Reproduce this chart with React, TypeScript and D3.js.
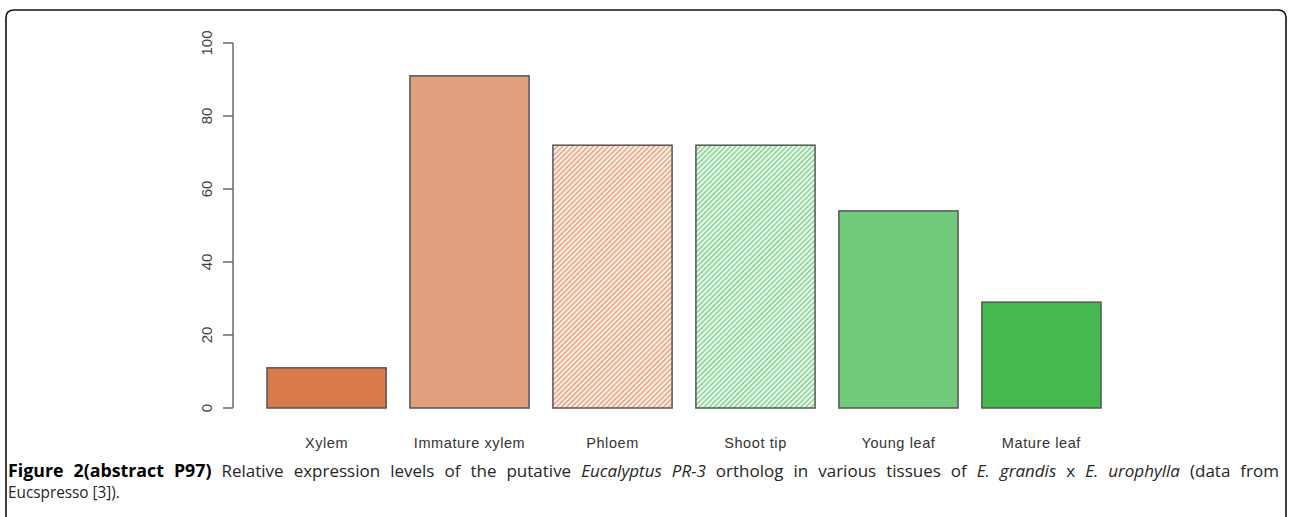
import React, { useEffect, useRef } from "react";
import * as d3 from "d3";

const categories = ["Xylem", "Immature xylem", "Phloem", "Shoot tip", "Young leaf", "Mature leaf"];
const values = [11, 91, 72, 72, 54, 29];
const fills = ["#d97a4b", "#e1a07d", "url(#hatchOrange)", "url(#hatchGreen)", "#72cb7c", "#45b950"];
const yTicks = [0, 20, 40, 60, 80, 100];

const captionLine1: [string, string][] = [
  ["b", "Figure 2(abstract P97)"],
  ["r", "Relative expression levels of the putative"],
  ["i", "Eucalyptus PR-3"],
  ["r", "ortholog in various tissues of"],
  ["i", "E. grandis"],
  ["r", "x"],
  ["i", "E. urophylla"],
  ["r", "(data from"],
];
const captionLine2 = "Eucspresso [3]).";

const W = 1289;
const H = 517;

export default function App() {
  const capRef = useRef<SVGGElement>(null);

  const x = d3
    .scaleBand<string>()
    .domain(categories)
    .range([267, 1101])
    .paddingInner(0.1667)
    .paddingOuter(0);
  const y = d3.scaleLinear().domain([0, 100]).range([408, 43]);

  const font = "Liberation Sans, Arimo, Arial, Helvetica, sans-serif";
  const capFont = "Open Sans, Noto Sans, sans-serif";

  useEffect(() => {
    const g = d3.select(capRef.current);
    g.selectAll("*").remove();
    const words: { t: string; s: string }[] = [];
    captionLine1.forEach(([s, t]) => t.split(" ").forEach((w) => words.push({ t: w, s })));

    const items = words.map((w) => {
      const el = g
        .append("text")
        .attr("font-family", capFont)
        .attr("font-size", w.s === "b" ? 17.8 : 16.5)
        .attr("font-weight", w.s === "b" ? "bold" : "normal")
        .attr("font-style", w.s === "i" ? "italic" : "normal")
        .attr("fill", w.s === "b" ? "#000" : "#262626")
        .text(w.t);
      const nat = (el.node() as SVGTextElement).getComputedTextLength();
      return { el, s: w.s, nat };
    });
    const gap = 10;
    const boldW = d3.sum(items.filter((d) => d.s === "b"), (d) => d.nat);
    const regW = d3.sum(items.filter((d) => d.s !== "b"), (d) => d.nat);
    const regSx = (1271 - boldW - gap * (items.length - 1)) / regW;
    let cx = 8;
    items.forEach((it) => {
      const sx = it.s === "b" ? 1 : regSx;
      it.el.attr("transform", `translate(${cx},477) scale(${sx},1)`);
      cx += it.nat * sx + gap;
    });

    const l2 = g
      .append("text")
      .attr("font-family", capFont)
      .attr("font-size", 16.5)
      .attr("fill", "#262626")
      .text(captionLine2);
    const l2w = (l2.node() as SVGTextElement).getComputedTextLength();
    const l2sx = Math.min(regSx, 112 / l2w);
    l2.attr("transform", `translate(8,498) scale(${l2sx},1)`);
  }, []);

  return (
    <svg width={W} height={H} style={{ position: "absolute", left: 0, top: 0, background: "#fff" }}>
      <defs>
        <pattern id="hatchOrange" patternUnits="userSpaceOnUse" width={3.6} height={3.6} patternTransform="rotate(45)">
          <rect width={3.6} height={3.6} fill="#fdf6f2" />
          <line x1={0.9} y1={0} x2={0.9} y2={3.6} stroke="#efac8a" strokeWidth={1.9} />
        </pattern>
        <pattern id="hatchGreen" patternUnits="userSpaceOnUse" width={3.6} height={3.6} patternTransform="rotate(45)">
          <rect width={3.6} height={3.6} fill="#f3fbf4" />
          <line x1={0.9} y1={0} x2={0.9} y2={3.6} stroke="#8fd99d" strokeWidth={1.9} />
        </pattern>
      </defs>

      {/* frame */}
      <path
        d={`M6,${H} L6,18 Q6,10 14,10 L1278,10 Q1286,10 1286,18 L1286,${H}`}
        fill="none"
        stroke="#111"
        strokeWidth={1.6}
      />

      {/* y axis */}
      <line x1={233} x2={233} y1={y(0)} y2={y(100)} stroke="#6a6a6a" strokeWidth={1.5} />
      {yTicks.map((t) => (
        <g key={t}>
          <line x1={223} x2={233} y1={y(t)} y2={y(t)} stroke="#6a6a6a" strokeWidth={1.5} />
          <text
            transform={`translate(212,${y(t)}) rotate(-90)`}
            textAnchor="middle"
            fontFamily={font}
            fontSize={15}
            fill="#444"
          >
            {t}
          </text>
        </g>
      ))}

      {/* bars */}
      {categories.map((c, i) => (
        <rect
          key={c}
          x={x(c)}
          y={y(values[i])}
          width={x.bandwidth()}
          height={y(0) - y(values[i])}
          fill={fills[i]}
          stroke="#555"
          strokeWidth={1.5}
        />
      ))}

      {/* category labels */}
      {categories.map((c) => (
        <text
          key={c}
          x={(x(c) || 0) + x.bandwidth() / 2}
          y={448}
          textAnchor="middle"
          fontFamily={font}
          fontSize={14.5}
          letterSpacing={0.6}
          fill="#333"
        >
          {c}
        </text>
      ))}

      {/* caption */}
      <g ref={capRef} />
    </svg>
  );
}
